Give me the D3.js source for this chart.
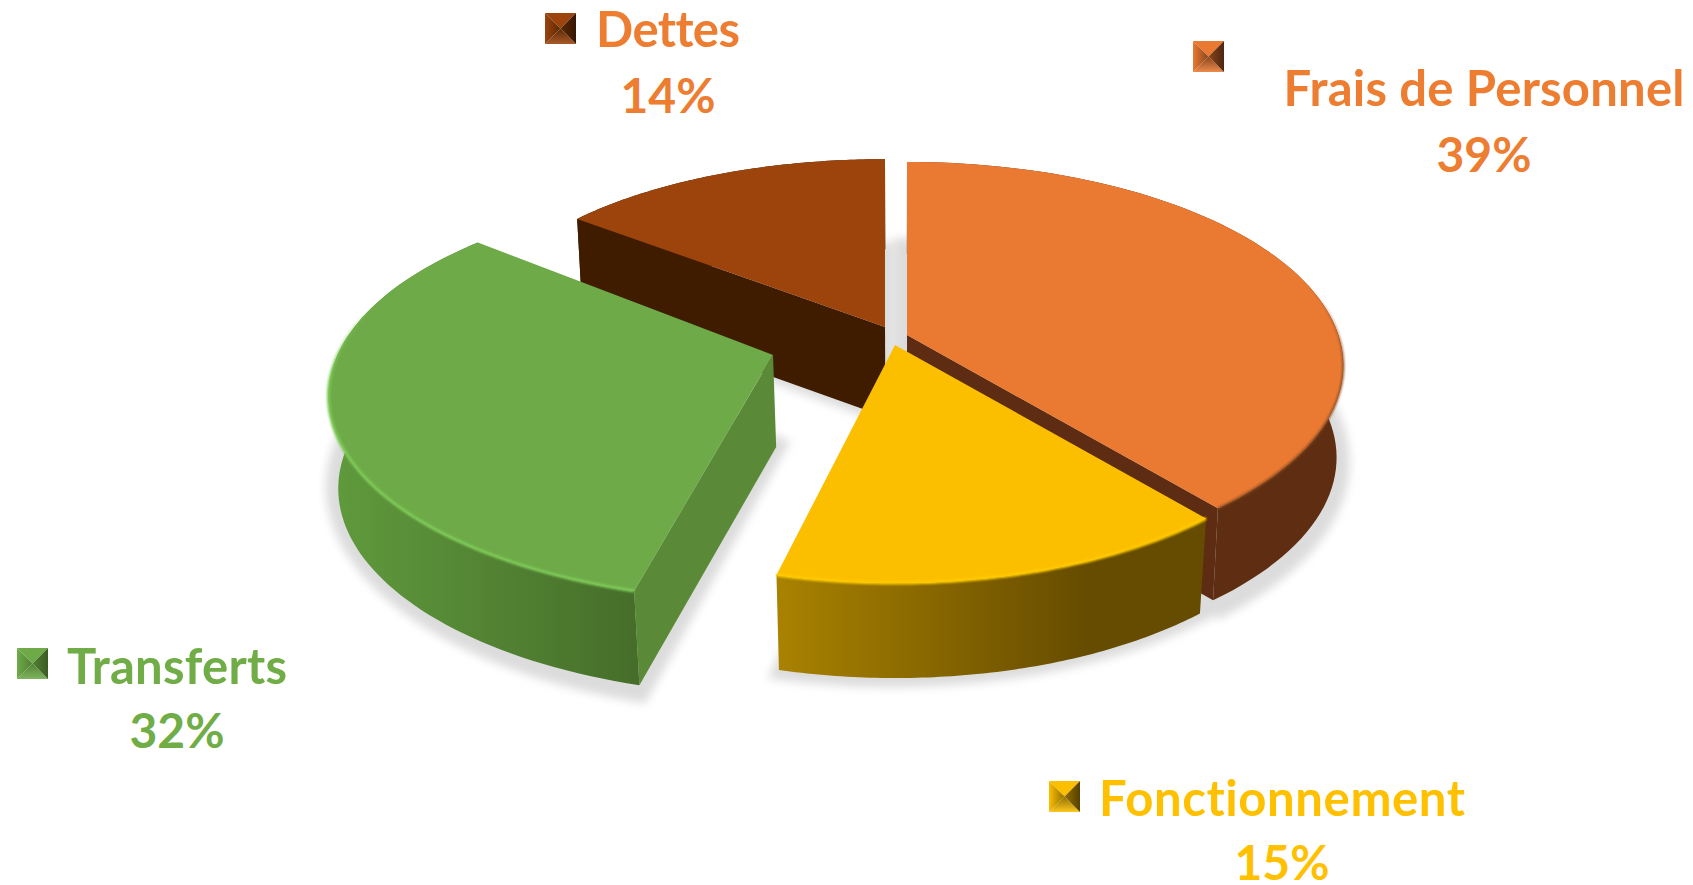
<!DOCTYPE html>
<html><head><meta charset="utf-8">
<script src="https://cdn.jsdelivr.net/npm/d3@7"></script>
<style>html,body{margin:0;padding:0;background:#fff;overflow:hidden}svg{display:block}
text{font-family:Lato,"Open Sans",sans-serif;font-weight:700;text-anchor:middle;font-variant-ligatures:none;font-feature-settings:"liga" 0}</style>
</head><body><svg id="c" width="1693" height="885"></svg>
<script>
const categories = ["Frais de Personnel","Fonctionnement","Transferts","Dettes"];
const values = [39,15,32,14];
const labels = ["39%","15%","32%","14%"];
const topColors = ["#ea7a32","#fcbf00","#6eab48","#9c440c"];
const textColors = ["#ed7d31","#ffc000","#70ad47","#ed7d31"];
const wallLeft = ["#5f2e12","#a98200","#609b3d","#3f1c00"];
const wallRight = ["#5f2e12","#664c00","#466e2a","#3f1c00"];
const radialColors = ["#5d2c12","#664c00","#5a8a37","#3f1c00"];
const rimColors = ["#8a4a20","#ffcb05","#7fcb58","#9c440c"];
// layout
const apexX = [907,895,773,885], apexY = [335,345,355,327];
const scaleX = [1.015,0.99,1.025,0.958], scaleY = [0.99,0.99,0.98,0.86];
const persp = [0.15,0.164,0.2,0.03];
const rotDeg = [0,-0.7,0.5,0];
const depth = [92,95,92,90], bottomScaleX = [0.985,0.98,0.985,0.985], bottomScaleY = [1,1,1.01,1];
const radialEdge = ["end",null,"start","start"];
const legendX = [1193,1049,17,545], legendY = [41,781,648,13];
const nameX = [1484,1282,177,668], nameY = [106,816,684,47];
const nameLength = [401,366,220,144];
const pctY = [172,880,748,113];
const NAME_FS = 49, PCT_FS = 48, RX = 425, RY = 201;

const svg = d3.select("#c"), defs = svg.append("defs");
defs.append("filter").attr("id","sh").attr("x","-20%").attr("y","-20%").attr("width","140%").attr("height","140%")
  .append("feGaussianBlur").attr("stdDeviation",5);
defs.append("filter").attr("id","rim").attr("x","-10%").attr("y","-10%").attr("width","120%").attr("height","120%")
  .append("feGaussianBlur").attr("stdDeviation",1.3);

const arcs = d3.pie().sort(null).value(d=>d).startAngle(0).endAngle(2*Math.PI)(values);
const proj = (i,a0)=>{const a=a0+rotDeg[i]*Math.PI/180,u=Math.sin(a),v=-Math.cos(a),w=1-persp[i]*v;
  return [apexX[i]+scaleX[i]*RX*u/w, apexY[i]+scaleY[i]*RY*v/w];};
const below = (i,p)=>{const bx=apexX[i]+(900-apexX[i])*0.025, by=apexY[i]+depth[i];
  return [bx+(p[0]-apexX[i])*bottomScaleX[i], by+(p[1]-apexY[i])*bottomScaleY[i]];};
const line = d3.line();
const rimPts = (i,a0,a1)=>d3.range(0,81).map(k=>proj(i,a0+(a1-a0)*k/80));

// soft ground shadow
const shadow = svg.append("g").attr("filter","url(#sh)").attr("fill","#dcdcdc");
arcs.forEach((d,i)=>{
  const poly=[[apexX[i],apexY[i]],...rimPts(i,d.startAngle,d.endAngle)].map(p=>below(i,p));
  const c=d3.polygonCentroid(poly);
  shadow.append("path").attr("d",line(poly.map(p=>[c[0]+(p[0]-c[0])*1.06,c[1]+(p[1]-c[1])*1.1]))+"Z");
});

// drawn back to front
[3,0,2,1].forEach(i=>{
  const d=arcs[i], g=svg.append("g"), apex=[apexX[i],apexY[i]];
  const rim=rimPts(i,d.startAngle,d.endAngle), xs=rim.map(p=>p[0]);
  const gid="w"+i, grad=defs.append("linearGradient").attr("id",gid).attr("gradientUnits","userSpaceOnUse")
    .attr("x1",d3.min(xs)).attr("x2",i===1?d3.min(xs)+(d3.max(xs)-d3.min(xs))*0.72:d3.max(xs)).attr("y1",0).attr("y2",0);
  grad.append("stop").attr("offset",0).attr("stop-color",wallLeft[i]);
  grad.append("stop").attr("offset",1).attr("stop-color",wallRight[i]);
  if(radialEdge[i]){
    const p=proj(i,radialEdge[i]==="end"?d.endAngle:d.startAngle);
    g.append("path").attr("d",line([apex,p,below(i,p),below(i,apex)])+"Z").attr("fill",radialColors[i]);
  }
  g.append("path").attr("d",line([...rim,...rim.map(p=>below(i,p)).reverse()])+"Z").attr("fill",`url(#${gid})`);
  g.append("path").attr("d",line([apex,...rim])+"Z").attr("fill",topColors[i]);
  if(i!==3){
    // the bevel fades in along the part of the rim that faces the viewer
    const rg=defs.append("linearGradient").attr("id","r"+i).attr("gradientUnits","userSpaceOnUse")
      .attr("x1",0).attr("x2",0).attr("y1",apexY[i]-50).attr("y2",apexY[i]+30);
    rg.append("stop").attr("offset",0).attr("stop-color",rimColors[i]).attr("stop-opacity",0);
    rg.append("stop").attr("offset",1).attr("stop-color",rimColors[i]).attr("stop-opacity",1);
    g.append("path").attr("d",line(rim)).attr("fill","none").attr("stroke",`url(#r${i})`)
      .attr("stroke-width",i===0?2:3).attr("filter","url(#rim)");
  }
});

// legend keys (bevelled squares) and labels
const keyGrad=(id,x1,y1,x2,y2,c1,c2)=>{const g=defs.append("linearGradient").attr("id",id)
  .attr("x1",x1).attr("y1",y1).attr("x2",x2).attr("y2",y2);
  g.append("stop").attr("offset",0).attr("stop-color",c1);
  g.append("stop").attr("offset",1).attr("stop-color",c2);return `url(#${id})`;};
categories.forEach((name,i)=>{
  const s=31,x=legendX[i],y=legendY[i],c=topColors[i],dk=wallRight[i];
  const g=svg.append("g").attr("transform",`translate(${x},${y})`),m=[s/2,s/2];
  const mid=d3.interpolateRgb(c,dk)(0.7), light=d3.interpolateRgb(c,"#fff")(0.12);
  g.append("path").attr("d",line([[0,0],[s,0],m])+"Z").attr("fill",c);
  g.append("path").attr("d",line([[0,s],[s,s],m])+"Z").attr("fill",keyGrad("kb"+i,0,0,0,1,mid,light));
  g.append("path").attr("d",line([[0,0],[0,s],m])+"Z").attr("fill",keyGrad("kl"+i,0,0,1,0,c,mid));
  g.append("path").attr("d",line([[s,0],[s,s],m])+"Z").attr("fill",keyGrad("kr"+i,0,0,1,0,mid,d3.color(dk).darker(.5)));
  svg.append("text").attr("x",nameX[i]).attr("y",nameY[i]).attr("font-size",NAME_FS).attr("fill",textColors[i])
    .attr("textLength",nameLength[i]).attr("lengthAdjust","spacing").text(name);
  svg.append("text").attr("x",nameX[i]).attr("y",pctY[i]).attr("font-size",PCT_FS).attr("fill",textColors[i]).text(labels[i]);
});
</script></body></html>
